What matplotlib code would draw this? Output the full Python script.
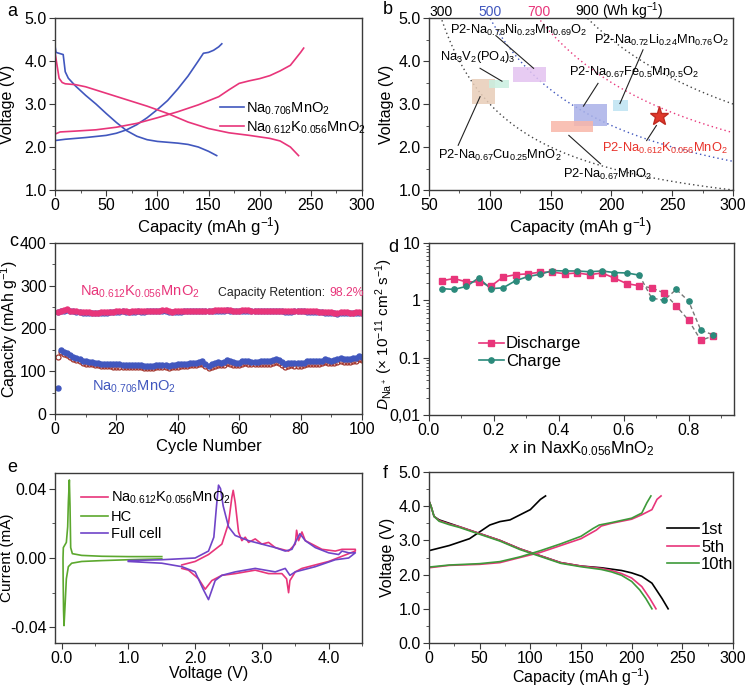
import numpy as np
import matplotlib.pyplot as plt
from matplotlib.ticker import MultipleLocator, FixedLocator, FixedFormatter
from matplotlib.patches import Rectangle

plt.rcParams["font.family"] = ["Liberation Sans", "DejaVu Sans"]
plt.rcParams["mathtext.fontset"] = "custom"
plt.rcParams["mathtext.rm"] = "Liberation Sans"
plt.rcParams["mathtext.it"] = "Liberation Sans:italic"
plt.rcParams["mathtext.bf"] = "Liberation Sans:bold"
plt.rcParams["axes.unicode_minus"] = False
plt.rcParams["font.size"] = 11.5

BLUE = "#4157BE"
PINK = "#E8357A"
RED = "#A3352D"
PURPLE = "#7044C8"
GREEN = "#5CA82E"
TEAL = "#2B8A7B"
GREEN_F = "#3D9A3A"
SPINE = "#3a3a3a"

# ---------- a: charge/discharge curves ----------
a_na_chg_cap = [0, 10, 30, 50, 60, 70, 80, 90, 100, 110, 120, 130, 140, 145, 150, 155, 160, 163]
a_na_chg_v = [2.15, 2.18, 2.22, 2.27, 2.32, 2.4, 2.52, 2.68, 2.87, 3.08, 3.35, 3.65, 4.0, 4.18, 4.2, 4.25, 4.33, 4.4]
a_na_dis_cap = [0, 1, 8, 9, 10, 13, 20, 30, 40, 50, 60, 70, 80, 90, 100, 120, 130, 140, 150, 158]
a_na_dis_v = [4.35, 4.2, 4.15, 3.95, 3.75, 3.6, 3.42, 3.2, 3.0, 2.78, 2.57, 2.38, 2.25, 2.17, 2.13, 2.09, 2.06, 2.0, 1.9, 1.8]
a_k_chg_cap = [0, 0, 5, 20, 40, 60, 80, 100, 120, 140, 160, 170, 180, 190, 200, 210, 220, 230, 235, 240, 243]
a_k_chg_v = [1.95, 2.3, 2.35, 2.37, 2.4, 2.46, 2.55, 2.68, 2.82, 2.98, 3.17, 3.33, 3.48, 3.54, 3.59, 3.66, 3.77, 3.9, 4.05, 4.2, 4.3]
a_k_dis_cap = [0, 2, 4, 7, 10, 20, 30, 50, 70, 90, 110, 130, 150, 170, 190, 210, 220, 230, 238]
a_k_dis_v = [4.2, 3.9, 3.6, 3.5, 3.47, 3.45, 3.4, 3.25, 3.1, 2.95, 2.78, 2.58, 2.43, 2.33, 2.27, 2.2, 2.14, 2.0, 1.8]

# ---------- b: energy density map ----------
b_energy = [300, 500, 700, 900]
b_energy_colors = ["#444444", BLUE, PINK, "#444444"]
b_boxes = [  # (x0, x1, y0, y1, color)
    (85, 104, 3.0, 3.57, "#E8CDB8"),
    (99, 116, 3.38, 3.56, "#C9EFE0"),
    (119, 146, 3.52, 3.85, "#E3C2F0"),
    (169, 196, 2.5, 3.01, "#A9B1E8"),
    (201, 214, 2.83, 3.09, "#BDE3F3"),
    (150, 185, 2.34, 2.61, "#F9B6A8"),
]
b_labels = [  # text, text x, text y, line start, line end, color
    (r"P2-Na$_{0.78}$Ni$_{0.23}$Mn$_{0.69}$O$_2$", 67, 4.7, (105, 4.59), (136, 3.83), "black"),
    (r"Na$_3$V$_2$(PO$_4$)$_3$", 59, 4.1, (92, 3.83), (110, 3.53), "black"),
    (r"P2-Na$_{0.67}$Fe$_{0.5}$Mn$_{0.5}$O$_2$", 165, 3.73, (189, 3.48), (177, 2.95), "black"),
    (r"P2-Na$_{0.72}$Li$_{0.24}$Mn$_{0.76}$O$_2$", 186, 4.48, (226, 4.26), (207, 3.01), "black"),
    (r"P2-Na$_{0.612}$K$_{0.056}$MnO$_2$", 192, 1.96, (229, 2.15), (237, 2.5), "#E8322A"),
    (r"P2-Na$_{0.67}$Cu$_{0.25}$MnO$_2$", 57, 1.8, (74, 2.04), (92, 3.17), "black"),
    (r"P2-Na$_{0.67}$MnO$_2$", 160, 1.37, (191, 1.61), (165, 2.27), "black"),
]
b_star = (239, 2.72)

# ---------- c: cycling ----------
c_cycle = np.arange(1, 101)
c_k_dis = [239, 242, 243, 245, 242, 241, 240, 239, 238, 238,
           238, 237, 237, 237, 238, 238, 238, 239, 239, 240,
           240, 241, 240, 239, 240, 240, 241, 240, 240, 241,
           241, 242, 242, 242, 243, 243, 240, 239, 240, 240,
           240, 241, 241, 241, 241, 241, 241, 241, 242, 242,
           242, 243, 243, 243, 243, 244, 243, 242, 242, 242,
           243, 243, 243, 242, 242, 242, 241, 241, 241, 241,
           241, 241, 241, 241, 240, 240, 240, 241, 242, 242,
           241, 240, 240, 240, 240, 239, 239, 238, 238, 238,
           237, 237, 238, 238, 238, 237, 237, 238, 238, 237]
c_k_chg = [238, 240, 241, 243, 241, 240, 239, 238, 237, 237,
           237, 236, 236, 236, 237, 237, 237, 238, 238, 239,
           239, 240, 239, 238, 239, 239, 240, 239, 239, 240,
           240, 241, 241, 241, 242, 242, 238, 238, 239, 239,
           239, 240, 240, 240, 240, 240, 240, 240, 241, 241,
           241, 242, 242, 242, 242, 243, 242, 241, 241, 241,
           242, 242, 242, 241, 241, 241, 240, 240, 240, 240,
           240, 240, 240, 240, 239, 239, 239, 240, 241, 241,
           240, 239, 239, 239, 239, 238, 238, 237, 237, 237,
           236, 235, 236, 237, 237, 236, 236, 237, 237, 236]
c_na_chg = [60, 150, 146, 142, 138, 134, 131, 128, 125, 123,
            122, 121, 120, 119, 118, 118, 117, 117, 116, 116,
            116, 115, 115, 115, 115, 114, 114, 114, 113, 113,
            113, 113, 114, 114, 114, 114, 113, 114, 115, 116,
            117, 117, 118, 119, 120, 119, 122, 124, 118, 113,
            116, 119, 121, 120, 121, 126, 124, 121, 120, 120,
            123, 125, 123, 122, 122, 122, 123, 123, 124, 123,
            126, 128, 126, 121, 117, 119, 120, 119, 119, 119,
            120, 123, 124, 124, 124, 123, 125, 128, 126, 125,
            127, 129, 130, 128, 128, 129, 130, 131, 136, 134]
c_na_dis = [133, 145, 141, 137, 133, 129, 126, 123, 120, 118,
            117, 116, 115, 114, 113, 113, 112, 112, 111, 111,
            111, 110, 110, 110, 110, 109, 109, 109, 108, 108,
            108, 108, 109, 109, 109, 109, 108, 109, 110, 111,
            112, 112, 113, 114, 115, 114, 116, 118, 112, 107,
            110, 113, 115, 114, 115, 119, 118, 115, 114, 114,
            117, 119, 117, 116, 116, 116, 117, 117, 118, 117,
            120, 122, 120, 115, 111, 113, 114, 113, 113, 113,
            114, 117, 118, 118, 118, 117, 119, 121, 120, 119,
            120, 122, 123, 121, 121, 122, 123, 124, 128, 127]

# ---------- d: GITT diffusion ----------
d_x = [0.04, 0.077, 0.115, 0.153, 0.19, 0.228, 0.267, 0.305, 0.343, 0.38, 0.42, 0.457,
       0.495, 0.533, 0.571, 0.61, 0.648, 0.686, 0.724, 0.762, 0.8, 0.838, 0.876]
d_dis = [2.2, 2.4, 2.1, 2.1, 1.75, 2.55, 2.8, 2.9, 3.1, 3.1, 2.9, 3.0,
         2.8, 3.0, 2.45, 1.95, 1.8, 1.65, 1.35, 0.8, 0.45, 0.2, 0.24]
d_chg = [1.6, 1.55, 1.75, 2.45, 1.6, 1.65, 2.2, 2.6, 2.85, 3.3, 3.25, 3.25,
         3.15, 3.25, 3.05, 3.0, 2.75, 1.1, 1.0, 1.55, 0.97, 0.3, 0.25]
d_solid_n = 17

# ---------- e: CV ----------
e_hc_v = [1.5, 1.0, 0.6, 0.3, 0.15, 0.1, 0.07, 0.05, 0.035, 0.028, 0.022, 0.02, 0.025,
          0.04, 0.07, 0.09, 0.1, 0.115, 0.125, 0.135, 0.16, 0.3, 0.6, 1.0, 1.5]
e_hc_i = [-0.0005, -0.001, -0.0015, -0.002, -0.003, -0.005, -0.012, -0.028, -0.039, -0.03,
          -0.012, 0.0, 0.006, 0.007, 0.009, 0.018, 0.032, 0.045, 0.03, 0.006, 0.0025,
          0.0015, 0.001, 0.0008, 0.0008]
e_full_v = [1.0, 1.5, 2.0, 2.2, 2.28, 2.32, 2.35, 2.38, 2.42, 2.5, 2.6, 2.8, 3.0, 3.2, 3.35,
            3.45, 3.5, 3.57, 3.65, 3.8, 4.0, 4.15, 4.2, 4.3, 4.4, 4.3, 4.1, 3.8, 3.5, 3.42,
            3.35, 3.2, 2.9, 2.6, 2.4, 2.3, 2.2, 2.12, 2.0, 1.8, 1.5, 1.0]
e_full_i = [-0.0015, -0.001, 0.0, 0.004, 0.012, 0.03, 0.042, 0.04, 0.03, 0.018, 0.013, 0.01,
            0.008, 0.006, 0.004, 0.005, 0.009, 0.014, 0.01, 0.006, 0.003, 0.002, 0.004,
            0.003, 0.003, 0.0, -0.001, -0.005, -0.008, -0.01, -0.006, -0.008, -0.006,
            -0.008, -0.01, -0.013, -0.024, -0.018, -0.008, -0.005, -0.003, -0.002]
e_k_v = [1.8, 2.0, 2.2, 2.4, 2.5, 2.55, 2.57, 2.6, 2.65, 2.7, 2.75, 2.8, 2.9, 3.0, 3.1, 3.2,
         3.4, 3.5, 3.52, 3.55, 3.6, 3.65, 3.75, 3.9, 4.1, 4.2, 4.4, 4.4, 4.2, 4.0, 3.8, 3.6,
         3.5, 3.42, 3.4, 3.37, 3.3, 3.1, 2.9, 2.6, 2.4, 2.25, 2.15, 2.05, 1.9, 1.8]
e_k_i = [-0.004, -0.002, 0.002, 0.008, 0.02, 0.035, 0.039, 0.032, 0.015, 0.01, 0.012, 0.009,
         0.011, 0.008, 0.009, 0.006, 0.004, 0.008, 0.016, 0.01, 0.015, 0.01, 0.008, 0.005,
         0.004, 0.005, 0.005, 0.004, 0.001, -0.002, -0.004, -0.006, -0.008, -0.013, -0.02,
         -0.012, -0.009, -0.009, -0.007, -0.009, -0.01, -0.013, -0.018, -0.012, -0.007, -0.006]

# ---------- f: full cell ----------
f_1_chg_cap = [0, 20, 40, 50, 60, 70, 80, 90, 100, 105, 110, 115]
f_1_chg_v = [2.7, 2.85, 3.05, 3.25, 3.45, 3.55, 3.6, 3.75, 3.9, 4.05, 4.2, 4.3]
f_1_dis_cap = [0, 2, 5, 10, 20, 30, 50, 70, 90, 110, 130, 150, 170, 190, 200, 210, 220, 230, 236]
f_1_dis_v = [4.15, 4.0, 3.7, 3.6, 3.5, 3.4, 3.2, 3.0, 2.75, 2.55, 2.35, 2.25, 2.2, 2.12, 2.05, 1.95, 1.75, 1.3, 1.0]
f_5_chg_cap = [0, 20, 50, 70, 90, 110, 130, 150, 165, 170, 180, 200, 210, 220, 225, 229]
f_5_chg_v = [2.2, 2.27, 2.3, 2.35, 2.5, 2.65, 2.85, 3.05, 3.3, 3.42, 3.5, 3.62, 3.75, 3.9, 4.2, 4.3]
f_5_dis_cap = [0, 2, 5, 10, 20, 30, 50, 70, 90, 110, 130, 150, 170, 180, 190, 200, 210, 218, 224]
f_5_dis_v = [4.15, 4.0, 3.7, 3.58, 3.48, 3.4, 3.2, 3.0, 2.75, 2.55, 2.35, 2.25, 2.18, 2.12, 2.03, 1.9, 1.65, 1.3, 1.0]
f_10_chg_cap = [0, 0, 20, 50, 70, 90, 110, 130, 150, 162, 168, 180, 200, 210, 215, 219]
f_10_chg_v = [1.6, 2.22, 2.28, 2.32, 2.38, 2.52, 2.7, 2.9, 3.12, 3.35, 3.45, 3.52, 3.65, 3.8, 4.1, 4.3]
f_10_dis_cap = [0, 2, 5, 10, 20, 30, 50, 70, 90, 110, 130, 150, 170, 180, 190, 200, 208, 214, 220]
f_10_dis_v = [4.15, 4.0, 3.7, 3.56, 3.46, 3.38, 3.18, 2.98, 2.73, 2.53, 2.33, 2.23, 2.15, 2.08, 1.98, 1.8, 1.55, 1.3, 1.0]


def style_axes(ax, ylab_x, ylab_y=0.5):
    for s in ax.spines.values():
        s.set_color(SPINE)
        s.set_linewidth(1.0)
    ax.tick_params(which="both", direction="out", color=SPINE, top=False, right=False)
    ax.tick_params(which="major", length=4, labelsize=11.5, pad=2)
    ax.tick_params(which="minor", length=2.5)
    ax.yaxis.set_label_coords(ylab_x, ylab_y)


fig = plt.figure(figsize=(7.47, 6.88), dpi=100)
W, H = 747, 688


def add_ax(x0, x1, y0, y1):
    return fig.add_axes([x0 / W, 1 - y1 / H, (x1 - x0) / W, (y1 - y0) / H])


# ---- a ----
ax = add_ax(55, 362, 18, 190)
ax.plot(a_na_chg_cap, a_na_chg_v, color=BLUE, lw=1.2, label=r"Na$_{0.706}$MnO$_2$")
ax.plot(a_na_dis_cap, a_na_dis_v, color=BLUE, lw=1.2)
ax.plot(a_k_chg_cap, a_k_chg_v, color=PINK, lw=1.2, label=r"Na$_{0.612}$K$_{0.056}$MnO$_2$")
ax.plot(a_k_dis_cap, a_k_dis_v, color=PINK, lw=1.2)
ax.set_xlim(0, 300)
ax.set_ylim(1, 5)
ax.xaxis.set_major_locator(MultipleLocator(50))
ax.xaxis.set_minor_locator(MultipleLocator(25))
ax.yaxis.set_major_locator(MultipleLocator(1))
ax.yaxis.set_minor_locator(MultipleLocator(0.5))
ax.yaxis.set_major_formatter("{x:.1f}")
ax.set_xlabel(r"Capacity (mAh g$^{-1}$)", fontsize=12, labelpad=1)
ax.set_ylabel("Voltage (V)", fontsize=11.5)
ax.legend(loc="upper left", bbox_to_anchor=(0.515, 0.565), frameon=False, fontsize=10.5,
          handlelength=1.6, handletextpad=0.15, labelspacing=0.2, borderpad=0)
style_axes(ax, -0.13)

# ---- b ----
ax = add_ax(429, 733, 18, 190)
cc = np.linspace(50, 300, 300)
for e, col in zip(b_energy, b_energy_colors):
    ax.plot(cc, e / cc, ls=(0, (1, 2.2)), color=col, lw=1.0)
for x0, x1, y0, y1, col in b_boxes:
    ax.add_patch(Rectangle((x0, y0), x1 - x0, y1 - y0, color=col, alpha=0.85, lw=0, zorder=2))
for txt, tx, ty, p0, p1, col in b_labels:
    ax.text(tx, ty, txt, fontsize=9.3, color=col, va="center", ha="left", zorder=4)
    ax.plot([p0[0], p1[0]], [p0[1], p1[1]], color="#222222", lw=0.8, zorder=3)
ax.plot(*b_star, marker="*", ms=14, color="#E0392B", mec="#C02A20", zorder=5)
ax.set_xlim(50, 300)
ax.set_ylim(1, 5)
ax.xaxis.set_major_locator(MultipleLocator(50))
ax.xaxis.set_minor_locator(MultipleLocator(25))
ax.yaxis.set_major_locator(MultipleLocator(1))
ax.yaxis.set_minor_locator(MultipleLocator(0.5))
ax.yaxis.set_major_formatter("{x:.1f}")
ax.set_xlabel(r"Capacity (mAh g$^{-1}$)", fontsize=12, labelpad=1)
ax.set_ylabel("Voltage (V)", fontsize=11.5)
tr = ax.get_xaxis_transform()
for e, col in zip(b_energy[:3], ["black", BLUE, PINK]):
    ax.text(e / 5, 1.014, str(e), color=col, fontsize=10, ha="center", va="baseline", transform=tr)
ax.text(b_energy[3] / 5 - 10, 1.014, "900 (Wh kg$^{-1}$)", color="black", fontsize=10,
        ha="left", va="baseline", transform=tr)
style_axes(ax, -0.115)

# ---- c ----
ax = add_ax(55, 362, 243, 414)
ms = 3.6
ax.plot(c_cycle, c_k_chg, ls="none", marker="o", ms=ms, mfc="none", mec=BLUE, mew=0.9)
ax.plot(c_cycle, c_k_dis, ls="none", marker="o", ms=ms, color=PINK)
ax.plot(c_cycle, c_na_dis, ls="none", marker="o", ms=ms, mfc="none", mec=RED, mew=0.9)
ax.plot(c_cycle, c_na_chg, ls="none", marker="o", ms=ms, color=BLUE)
ax.set_xlim(0, 100)
ax.set_ylim(0, 400)
ax.xaxis.set_major_locator(MultipleLocator(20))
ax.xaxis.set_minor_locator(MultipleLocator(10))
ax.yaxis.set_major_locator(MultipleLocator(100))
ax.yaxis.set_minor_locator(MultipleLocator(50))
ax.text(8, 285, r"Na$_{0.612}$K$_{0.056}$MnO$_2$", color=PINK, fontsize=10.5, va="center")
ax.text(12, 63, r"Na$_{0.706}$MnO$_2$", color=BLUE, fontsize=10.5, va="center")
t1 = ax.text(53, 284, "Capacity Retention:", fontsize=8.8, color="#222222", va="center")
ax.annotate("98.2%", xy=(1, 0.5), xycoords=t1, xytext=(3, 0), textcoords="offset points",
            fontsize=8.8, color=PINK, va="center", ha="left")
ax.set_xlabel("Cycle Number", fontsize=12, labelpad=1)
ax.set_ylabel(r"Capacity (mAh g$^{-1}$)", fontsize=11.5)
style_axes(ax, -0.113)

# ---- d ----
ax = add_ax(429, 734, 243, 415)
n = d_solid_n
ax.plot(d_x[n - 1:], d_dis[n - 1:], ls="--", color="#777777", lw=1.0, dashes=(3, 2))
ax.plot(d_x[n - 1:], d_chg[n - 1:], ls="--", color="#777777", lw=1.0, dashes=(3, 2))
ax.plot(d_x[:n], d_dis[:n], color=PINK, lw=1.2)
ax.plot(d_x[:n], d_chg[:n], color=TEAL, lw=1.2)
ax.plot(d_x, d_dis, ls="none", marker="s", ms=3.8, color=PINK)
ax.plot(d_x, d_chg, ls="none", marker="o", ms=3.8, color=TEAL)
ax.plot([], [], color=PINK, marker="s", ms=3.8, lw=1.2, label="Discharge")
ax.plot([], [], color=TEAL, marker="o", ms=3.8, lw=1.2, label="Charge")
ax.set_yscale("log")
ax.set_xlim(0, 0.94)
ax.set_ylim(0.01, 10)
ax.xaxis.set_major_locator(MultipleLocator(0.2))
ax.xaxis.set_minor_locator(MultipleLocator(0.1))
ax.xaxis.set_major_formatter("{x:.1f}")
ax.yaxis.set_major_locator(FixedLocator([0.01, 0.1, 1, 10]))
ax.yaxis.set_major_formatter(FixedFormatter(["0,01", "0.1", "1", "10"]))
ax.legend(loc="upper left", bbox_to_anchor=(0.135, 0.505), frameon=False, fontsize=12,
          handlelength=1.5, handletextpad=0.15, labelspacing=0.15, borderpad=0)
ax.set_xlabel(r"$x$ in NaxK$_{0.056}$MnO$_2$", fontsize=12, labelpad=1)
ax.set_ylabel(r"$D_{\mathrm{Na}^+}$ (× 10$^{-11}$ cm$^2$ s$^{-1}$)", fontsize=11)
style_axes(ax, -0.112, 0.47)

# ---- e ----
ax = add_ax(55, 362, 473, 643)
ax.plot(e_k_v, e_k_i, color=PINK, lw=1.2, label=r"Na$_{0.612}$K$_{0.056}$MnO$_2$")
ax.plot(e_hc_v, e_hc_i, color=GREEN, lw=1.2, label="HC")
ax.plot(e_full_v, e_full_i, color=PURPLE, lw=1.2, label="Full cell")
ax.set_xlim(-0.1, 4.5)
ax.set_ylim(-0.049, 0.049)
ax.xaxis.set_major_locator(MultipleLocator(1))
ax.xaxis.set_minor_locator(MultipleLocator(0.5))
ax.xaxis.set_major_formatter("{x:.1f}")
ax.yaxis.set_major_locator(FixedLocator([-0.04, 0.0, 0.04]))
ax.yaxis.set_minor_locator(FixedLocator([-0.02, 0.02]))
ax.yaxis.set_major_formatter("{x:.2f}")
ax.legend(loc="upper left", bbox_to_anchor=(0.06, 0.945), frameon=False, fontsize=10.5,
          handlelength=1.9, handletextpad=0.15, labelspacing=0.25, borderpad=0)
ax.set_xlabel("Voltage (V)", fontsize=11.5, labelpad=0)
ax.set_ylabel("Current (mA)", fontsize=11)
style_axes(ax, -0.133)

# ---- f ----
ax = add_ax(429, 733, 472, 643)
ax.plot(f_1_chg_cap, f_1_chg_v, color="black", lw=1.2, label="1st")
ax.plot(f_1_dis_cap, f_1_dis_v, color="black", lw=1.2)
ax.plot(f_5_chg_cap, f_5_chg_v, color=PINK, lw=1.2, label="5th")
ax.plot(f_5_dis_cap, f_5_dis_v, color=PINK, lw=1.2)
ax.plot(f_10_chg_cap, f_10_chg_v, color=GREEN_F, lw=1.2, label="10th")
ax.plot(f_10_dis_cap, f_10_dis_v, color=GREEN_F, lw=1.2)
ax.set_xlim(0, 300)
ax.set_ylim(0, 5)
ax.xaxis.set_major_locator(MultipleLocator(50))
ax.xaxis.set_minor_locator(MultipleLocator(25))
ax.yaxis.set_major_locator(MultipleLocator(1))
ax.yaxis.set_minor_locator(MultipleLocator(0.5))
ax.yaxis.set_major_formatter("{x:.1f}")
ax.legend(loc="upper left", bbox_to_anchor=(0.755, 0.755), frameon=False, fontsize=12,
          handlelength=1.9, handletextpad=0.15, labelspacing=0.15, borderpad=0)
ax.set_xlabel(r"Capacity (mAh g$^{-1}$)", fontsize=11.5, labelpad=0)
ax.set_ylabel("Voltage (V)", fontsize=11.5)
style_axes(ax, -0.112)

# panel letters
for lab, px, py in [("a", 7, 12), ("b", 383, 10), ("c", 9, 242), ("d", 388, 248),
                    ("e", 7, 468), ("f", 383, 473)]:
    fig.text(px / W, 1 - py / H, lab, fontsize=13, ha="left", va="center")

fig.savefig("out.png", dpi=100)
